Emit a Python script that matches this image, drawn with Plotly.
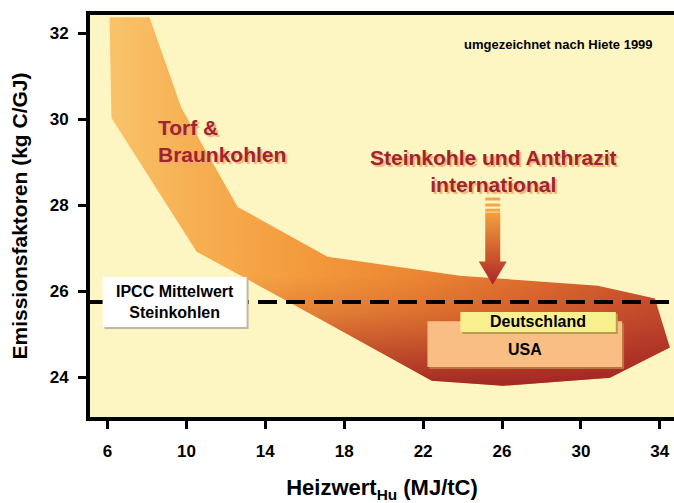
import plotly.graph_objects as go

# Emission factor envelope of coals: heating value Hu (MJ/tC) vs. emission factor (kg C/GJ)
band_hu = [6.10, 8.13, 9.75, 12.60, 17.16, 23.86, 30.86, 33.75, 34.51,
           31.47, 26.04, 22.44, 17.11, 10.52, 6.20]
band_ef = [32.37, 32.37, 30.26, 27.96, 26.80, 26.36, 26.13, 25.83, 24.69,
           23.99, 23.80, 23.92, 25.27, 26.92, 30.03]

# IPCC mean value for hard coal
ipcc_ef = 25.75

# National ranges (Hu min/max, EF min/max)
usa_hu = [22.22, 32.09]
usa_ef = [24.24, 25.30]
de_hu = [23.89, 31.77]
de_ef = [25.05, 25.52]

x_ticks = [6, 10, 14, 18, 22, 26, 30, 34]
y_ticks = [24, 26, 28, 30, 32]

FONT = "Liberation Sans, Arial, sans-serif"
DARKRED = "#9E2430"
LABEL_SHADOW = "2px 2px 1px rgba(242,168,110,0.9)"

fig = go.Figure()

# coal band, warm horizontal gradient
fig.add_trace(go.Scatter(
    x=band_hu + [band_hu[0]], y=band_ef + [band_ef[0]],
    mode="lines", line=dict(width=0), fill="toself",
    fillgradient=dict(type="horizontal", colorscale=[
        [0.0, "#F9C36B"], [0.15, "#F7AF52"], [0.35, "#F39A3C"],
        [0.55, "#EC8633"], [0.75, "#DE6E2E"], [1.0, "#C8502C"]]),
    hoverinfo="skip", showlegend=False))

# darkening towards the low-emission edge
fig.add_trace(go.Scatter(
    x=band_hu + [band_hu[0]], y=band_ef + [band_ef[0]],
    mode="lines", line=dict(width=0), fill="toself",
    fillgradient=dict(type="vertical", colorscale=[
        [0.0, "rgba(150,25,35,0.85)"], [0.08, "rgba(155,28,35,0.6)"],
        [0.2, "rgba(160,30,35,0.2)"], [0.3, "rgba(160,30,35,0)"],
        [1.0, "rgba(160,30,35,0)"]]),
    hoverinfo="skip", showlegend=False))

# arrow pointing at the international hard coal range
ac, shaft_w, head_w = 25.53, 0.38, 0.71
arrow_x = [ac - shaft_w, ac + shaft_w, ac + shaft_w, ac + head_w, ac,
           ac - head_w, ac - shaft_w, ac - shaft_w]
arrow_y = [27.83, 27.83, 26.69, 26.69, 26.15, 26.69, 26.69, 27.83]
fig.add_trace(go.Scatter(
    x=arrow_x, y=arrow_y, mode="lines", line=dict(width=0), fill="toself",
    fillgradient=dict(type="vertical", colorscale=[
        [0.0, "#A82430"], [0.35, "#C8502C"], [1.0, "#F2A03E"]]),
    hoverinfo="skip", showlegend=False))

shapes = []
for y0, y1 in [(28.11, 28.18), (27.97, 28.04), (27.85, 27.92)]:
    shapes.append(dict(type="rect", xref="x", yref="y", layer="above",
                       x0=ac - shaft_w, x1=ac + shaft_w, y0=y0, y1=y1,
                       fillcolor="#F2A54A", line=dict(width=0)))

# shadowed boxes for USA and Germany
dx, dy = 0.1, 0.046
shapes += [
    dict(type="rect", xref="x", yref="y", layer="above",
         x0=usa_hu[0] + dx, x1=usa_hu[1] + dx, y0=usa_ef[0] - dy, y1=usa_ef[1] - dy,
         fillcolor="#B8743C", line=dict(width=0)),
    dict(type="rect", xref="x", yref="y", layer="above",
         x0=usa_hu[0], x1=usa_hu[1], y0=usa_ef[0], y1=usa_ef[1],
         fillcolor="#F9BE84", line=dict(width=0)),
    dict(type="rect", xref="x", yref="y", layer="above",
         x0=de_hu[0] + dx, x1=de_hu[1] + dx, y0=de_ef[0] - dy, y1=de_ef[1] - dy,
         fillcolor="#B89A50", line=dict(width=0)),
    dict(type="rect", xref="x", yref="y", layer="above",
         x0=de_hu[0], x1=de_hu[1], y0=de_ef[0], y1=de_ef[1],
         fillcolor="#F8F08E", line=dict(width=0)),
    # IPCC mean line
    dict(type="line", xref="paper", yref="y", layer="above",
         x0=0, x1=1, y0=ipcc_ef, y1=ipcc_ef,
         line=dict(color="black", width=4, dash="19px,9px")),
]

# IPCC label box (pixel-sized, anchored on the mean line)
ipcc_box_x = 9.40
for off, col in [(2, "#BDB8A6"), (0, "white")]:
    shapes.append(dict(type="rect", xref="x", yref="y", layer="above",
                       xsizemode="pixel", ysizemode="pixel",
                       xanchor=ipcc_box_x, yanchor=ipcc_ef,
                       x0=-72 + off, x1=72 + off, y0=-25 - off, y1=25 - off,
                       fillcolor=col, line=dict(width=0)))

bold = dict(family=FONT, color="black", weight="bold")
annotations = [
    dict(x=ipcc_box_x, y=ipcc_ef, xref="x", yref="y",
         text="IPCC Mittelwert<br>Steinkohlen", showarrow=False,
         font=dict(size=16, **bold)),
    dict(x=(de_hu[0] + de_hu[1]) / 2, y=(de_ef[0] + de_ef[1]) / 2,
         xref="x", yref="y", text="Deutschland", showarrow=False,
         font=dict(size=16, **bold)),
    dict(x=(usa_hu[0] + usa_hu[1]) / 2, y=(usa_ef[0] + de_ef[0]) / 2,
         xref="x", yref="y", text="USA", showarrow=False,
         font=dict(size=16, **bold)),
    dict(x=8.435, y=29.50, xref="x", yref="y", xanchor="left", align="left",
         text="Torf &<br>Braunkohlen", showarrow=False,
         font=dict(family=FONT, size=21, color=DARKRED, weight="bold",
                   shadow=LABEL_SHADOW)),
    dict(x=25.58, y=28.80, xref="x", yref="y", align="center",
         text="Steinkohle und Anthrazit<br>international", showarrow=False,
         font=dict(family=FONT, size=21, color=DARKRED, weight="bold",
                   shadow=LABEL_SHADOW)),
    dict(x=28.86, y=31.73, xref="x", yref="y",
         text="umgezeichnet nach Hiete 1999", showarrow=False,
         font=dict(size=13, **bold)),
]

axis_common = dict(
    showgrid=False, zeroline=False, showline=True, linecolor="black",
    linewidth=4, ticks="outside", ticklen=8, tickwidth=3, tickcolor="black",
    tickfont=dict(size=17, **bold), automargin=False,
)

fig.update_layout(
    width=674, height=503,
    margin=dict(l=90, r=0, t=15, b=86),
    paper_bgcolor="white", plot_bgcolor="#FEF6C2",
    showlegend=False,
    xaxis=dict(range=[5.112, 34.72], tickvals=x_ticks, mirror=True,
               ticklabelstandoff=8,
               title=dict(text="Heizwert<sub>Hu</sub> (MJ/tC)", standoff=22,
                          font=dict(size=22, **bold)),
               **axis_common),
    yaxis=dict(range=[23.075, 32.425], tickvals=y_ticks,
               ticklabelstandoff=6,
               title=dict(text="Emissionsfaktoren (kg C/GJ)", standoff=17,
                          font=dict(size=21, **bold)),
               **axis_common),
    shapes=shapes, annotations=annotations,
)

fig.write_html("out.html")
